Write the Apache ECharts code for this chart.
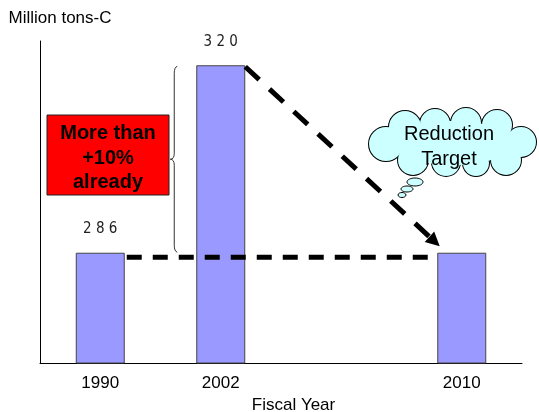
<!DOCTYPE html>
<html>
<head>
<meta charset="utf-8">
<script src="https://cdn.jsdelivr.net/npm/echarts@6/dist/echarts.min.js"></script>
<style>
html,body{margin:0;padding:0;background:#fff;}
#chart{width:539px;height:412px;}
</style>
</head>
<body>
<div id="chart"></div>
<script>
// ---- data ----
const categories = ['1990', '2002', '', '2010'];
const emissions = [286, 320, null, 286];
const labelledYears = ['1990', '2002'];
const yAxisName = 'Million tons-C';
const xAxisName = 'Fiscal Year';
const boxText = ['More than', '+10%', 'already'];
const cloudText = ['Reduction', 'Target'];

(function () {
const FONT = '"Liberation Sans", Arial, sans-serif';
const chart = echarts.init(document.getElementById('chart'));

chart.setOption({
  animation: false,
  backgroundColor: '#fff',
  grid: { left: 40, right: 17, top: 41, bottom: 49, containLabel: false, outerBoundsMode: 'none' },
  xAxis: {
    type: 'category',
    data: categories,
    axisLine: { lineStyle: { color: '#000', width: 1 } },
    axisTick: { show: false },
    axisLabel: { color: '#000', fontSize: 17, fontFamily: FONT, margin: 12 },
    name: xAxisName,
    nameLocation: 'middle',
    nameGap: 26,
    nameTextStyle: { color: '#000', fontSize: 17, fontFamily: FONT, padding: [0, 0, 0, 25] }
  },
  yAxis: {
    type: 'value',
    min: 266,
    max: 324.4,
    axisLine: { show: true, lineStyle: { color: '#000', width: 1 } },
    axisTick: { show: false },
    axisLabel: { show: false },
    splitLine: { show: false },
    name: yAxisName,
    nameLocation: 'end',
    nameGap: 14,
    nameTextStyle: { color: '#000', fontSize: 17, fontFamily: FONT, padding: [0, 0, 0, 40] }
  },
  series: [{
    type: 'bar',
    data: emissions,
    barWidth: 49,
    itemStyle: { color: '#9999ff', borderColor: '#444', borderWidth: 1 },
    label: {
      show: true,
      position: 'top',
      distance: 16,
      color: '#222',
      fontSize: 15,
      fontFamily: '"Liberation Sans Narrow", "DejaVu Sans Condensed", sans-serif',
      formatter: p => labelledYears.includes(p.name) ? String(p.value).split('').join(' ') : ''
    }
  }]
});

// ---- annotations derived from bar layout ----
const data = chart.getModel().getSeriesByIndex(0).getData();
const L = i => {
  const l = data.getItemLayout(i);
  const x0 = Math.min(l.x, l.x + l.width), x1 = Math.max(l.x, l.x + l.width);
  const y0 = Math.min(l.y, l.y + l.height);
  return { left: x0, right: x1, top: y0 };
};
const b0 = L(0), b1 = L(1), b3 = L(3);

const graphics = [];

// horizontal dashed line at 1990 level
graphics.push({
  type: 'line', z: 20,
  shape: { x1: b0.right + 2, y1: b0.top + 4.5, x2: b3.left, y2: b0.top + 4.5 },
  style: { stroke: '#000', lineWidth: 5, lineDash: [15, 11], fill: null }
});

// diagonal dashed arrow from 2002 top to 2010
const sx = b1.right, sy = b1.top + 1.5;
const tx = b3.left + 2.5, ty = b3.top - 6.5;
const dx = tx - sx, dy = ty - sy, len = Math.hypot(dx, dy);
const ux = dx / len, uy = dy / len;
const headLen = 14, headHalf = 7;
const bx = tx - ux * headLen, by = ty - uy * headLen;
graphics.push({
  type: 'line', z: 20,
  shape: { x1: sx, y1: sy, x2: bx + ux * 2, y2: by + uy * 2 },
  style: { stroke: '#000', lineWidth: 5, lineDash: [19, 14], fill: null }
});
graphics.push({
  type: 'polygon', z: 21,
  shape: { points: [[tx, ty], [bx - uy * headHalf, by + ux * headHalf], [bx + uy * headHalf, by - ux * headHalf]] },
  style: { fill: '#000' }
});

// brace spanning 1990 level to 2002 level
const brX = b1.left - 22, brTop = b1.top + 1, brBot = b0.top - 0.5, brMid = (brTop + brBot) / 2;
const braceStyle = { stroke: '#333', lineWidth: 1, fill: null };
const curves = [
  [brX + 3, brTop, brX, brTop + 7, brX, brTop + 1],
  [brX, brMid - 6, brX - 4, brMid, brX, brMid],
  [brX - 4, brMid, brX, brMid + 6, brX, brMid],
  [brX, brBot - 7, brX + 3, brBot, brX, brBot - 1]
];
curves.forEach(([x1, y1, x2, y2, cpx1, cpy1]) => {
  graphics.push({ type: 'bezierCurve', z: 20, shape: { x1, y1, x2, y2, cpx1, cpy1 }, style: braceStyle });
});
graphics.push({ type: 'line', z: 20, shape: { x1: brX, y1: brTop + 7, x2: brX, y2: brMid - 6 }, style: braceStyle });
graphics.push({ type: 'line', z: 20, shape: { x1: brX, y1: brMid + 6, x2: brX, y2: brBot - 7 }, style: braceStyle });

// red box
graphics.push({
  type: 'rect', z: 22,
  shape: { x: 47, y: 115, width: 122, height: 80 },
  style: { fill: '#ff0000', stroke: '#222', lineWidth: 1 }
});
graphics.push({
  type: 'text', z: 23,
  x: 108, y: 158,
  style: { text: boxText.join('\n'), font: 'bold 20px ' + FONT, fill: '#000', align: 'center', verticalAlign: 'middle', lineHeight: 24.5 }
});

// cloud callout
const cloudFill = '#ccffff';
const bumps = [
  [386, 144, 17], [405, 127, 16], [435, 124, 15], [466, 123, 15], [497, 125, 15],
  [521, 142, 15], [506, 160, 15], [476, 163, 13], [446, 162, 14], [413, 160, 15]
];
bumps.forEach(([cx, cy, r]) => {
  graphics.push({ type: 'circle', z: 30, shape: { cx, cy, r }, style: { fill: cloudFill, stroke: '#000', lineWidth: 2 } });
  graphics.push({ type: 'circle', z: 31, shape: { cx, cy, r }, style: { fill: cloudFill } });
});
graphics.push({ type: 'ellipse', z: 31, shape: { cx: 453, cy: 143, rx: 60, ry: 22 }, style: { fill: cloudFill } });
[[415, 182, 8, 4], [407, 189, 6, 3], [402, 195, 4, 2.5]].forEach(([cx, cy, rx, ry]) => {
  graphics.push({ type: 'ellipse', z: 31, shape: { cx, cy, rx, ry }, style: { fill: cloudFill, stroke: '#000', lineWidth: 1 } });
});
graphics.push({
  type: 'text', z: 32,
  x: 449, y: 146.5,
  style: { text: cloudText.join('\n'), font: '20px ' + FONT, fill: '#000', align: 'center', verticalAlign: 'middle', lineHeight: 25 }
});

chart.setOption({ graphic: { elements: graphics } });
})();
</script>
</body>
</html>
